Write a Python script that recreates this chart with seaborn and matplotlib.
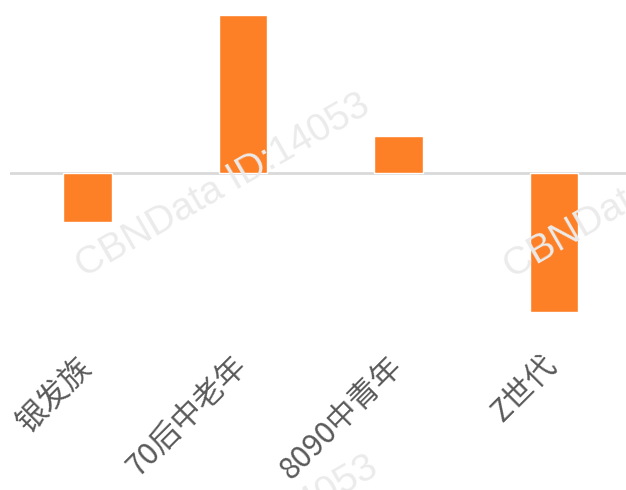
import matplotlib
matplotlib.use('Agg')
import pandas as pd
import seaborn as sns
import matplotlib.pyplot as plt
from matplotlib.transforms import ScaledTranslation

# Datos (unidades relativas)
grupos = ['银发族', '70后中老年', '8090中青年', 'Z世代']
valores = [-4.9, 15.8, 3.7, -13.9]

df = pd.DataFrame({'Grupo': grupos, 'Valor': valores})

sns.set_theme(style='white')
plt.rcParams['font.family'] = ['Noto Sans CJK SC', 'DejaVu Sans']

W, H = 626, 490
fig = plt.figure(figsize=(W / 100, H / 100), dpi=100)

# Ejes colocados en píxeles: izquierda 9.75, arriba 15, abajo 330
left, top, bottom = 9.75, 15, 330
ax = fig.add_axes([left / W, 1 - bottom / H, 1 - left / W, (bottom - top) / H])

sns.barplot(x='Grupo', y='Valor', data=df, color='#fe8026', saturation=1,
            width=0.315, ax=ax, zorder=3)

ax.set_xlim(-0.5, (W - 87.5) / 155.5)
ax.set_ylim(-(bottom - 173) / 10, 15.8)
ax.axhline(0, color='#d9d9d9', lw=2, zorder=2)

for s in ax.spines.values():
    s.set_visible(False)
ax.set_yticks([])
ax.set_xlabel('')
ax.set_ylabel('')
ax.tick_params(axis='x', length=0, pad=15)
ax.set_xticks(range(len(grupos)))
ax.set_xticklabels(grupos, rotation=45, ha='right', rotation_mode='anchor',
                   fontsize=22, color='#595959')
desplaza = ScaledTranslation(-0.12, 0, fig.dpi_scale_trans)
for lbl in ax.get_xticklabels():
    lbl.set_transform(lbl.get_transform() + desplaza)

# Marca de agua
for x0, y0 in [(84, 278), (512, 279), (92, 640)]:
    fig.text(x0 / W, 1 - y0 / H, 'CBNData ID:14053', fontsize=28, color='#ebebeb',
             rotation=30, rotation_mode='anchor', ha='left', va='baseline',
             family='Liberation Sans', zorder=0)

fig.savefig('out.png', dpi=100)
